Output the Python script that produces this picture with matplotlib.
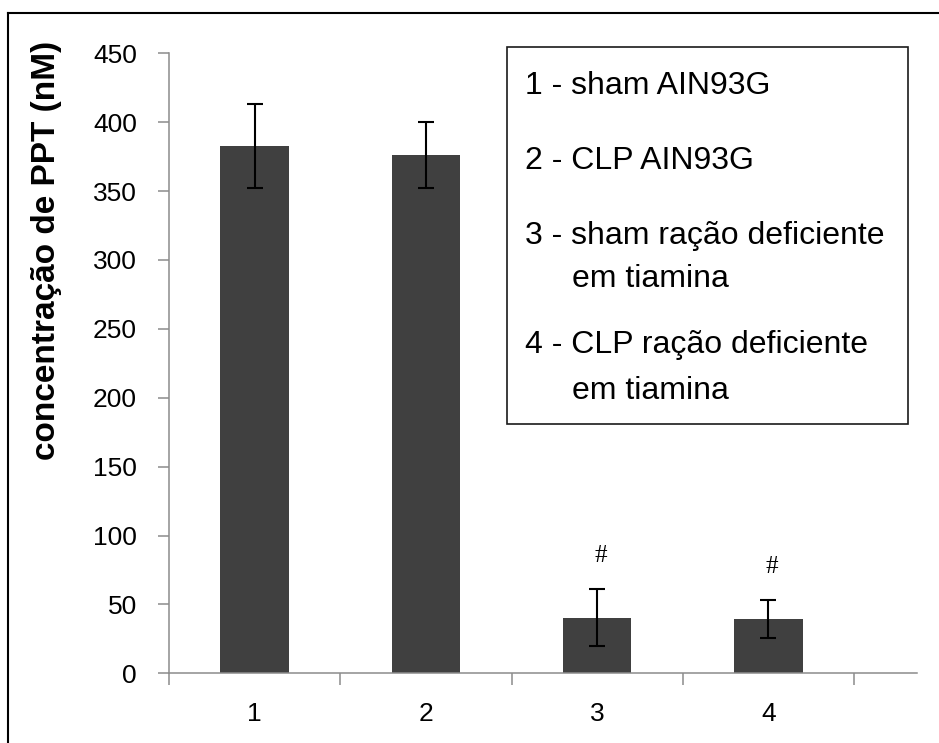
import matplotlib
matplotlib.use("Agg")
import matplotlib.pyplot as plt
from matplotlib.lines import Line2D
from matplotlib.patches import Rectangle

plt.rcParams["font.family"] = ["Liberation Sans", "DejaVu Sans"]

# Group means and error bars (nM)
groups = ["1", "2", "3", "4"]
means = [382.5, 376, 40.5, 39.5]
errors = [30.5, 24, 21, 13.7]
marked = [False, False, True, True]   # significance marks "#"

y_ticks = [0, 50, 100, 150, 200, 250, 300, 350, 400, 450]
y_label = "concentração de PPT (nM)"

legend_items = [
    ["1 - sham AIN93G"],
    ["2 - CLP AIN93G"],
    ["3 - sham ração deficiente", "em tiamina"],
    ["4 - CLP ração deficiente", "em tiamina"],
]

BAR_COLOR = "#404040"
AXIS_COLOR = "#8c8c8c"
W, H = 939, 743

fig = plt.figure(figsize=(W / 100, H / 100), dpi=100)
fig.patch.set_facecolor("white")

# plot area in pixels: x 169..917, y 53..673
ax = fig.add_axes([169 / W, (H - 673.3) / H, 748 / W, 620 / H])

x = list(range(1, len(groups) + 1))
ax.bar(x, means, width=0.4, color=BAR_COLOR, zorder=2)
ax.errorbar(x, means, yerr=errors, fmt="none", ecolor="black",
            elinewidth=1.5, capsize=6, capthick=1.5, zorder=3)

for xi, m, e, flag in zip(x, means, errors, marked):
    if flag:
        ax.text(xi + 0.02, m + e + 24, "#", ha="center", va="center",
                fontsize=18, family=["Liberation Serif", "DejaVu Serif"],
                color="black", zorder=4)

ax.set_ylim(0, 450)
ax.set_yticks(y_ticks)
ax.set_xlim(0.5, 0.5 + 748 / 171.25)

# category boundaries carry the tick marks, labels sit at the centres
ax.set_xticks([i + 0.5 for i in range(0, len(groups) + 1)])
ax.set_xticklabels([])
ax.set_xticks(x, minor=True)
ax.set_xticklabels(groups, minor=True)
ax.tick_params(axis="x", which="minor", length=0, pad=21, labelsize=19)
ax.tick_params(axis="x", which="major", length=8.5, width=1.1,
               color=AXIS_COLOR, direction="out")
ax.tick_params(axis="y", length=8, width=1.1, color=AXIS_COLOR,
               direction="out", pad=15, labelsize=19)

for side in ("top", "right"):
    ax.spines[side].set_visible(False)
for side in ("left", "bottom"):
    ax.spines[side].set_color(AXIS_COLOR)
    ax.spines[side].set_linewidth(1.1)

fig.text(47 / W, 1 - 250 / H, y_label, rotation=90, ha="center",
         va="center", fontsize=24, fontweight="bold", color="black")

# legend box with numbered group descriptions
fig.add_artist(Rectangle((507 / W, 1 - 424 / H), 401 / W, 377.3 / H,
                         transform=fig.transFigure, fill=False,
                         edgecolor="#1a1a1a", linewidth=1.2))
baselines = [94, 169, 244, 287, 353, 399]
k = 0
for item in legend_items:
    for j, line in enumerate(item):
        left = 525 if j == 0 else 572
        fig.text(left / W, 1 - baselines[k] / H, line, ha="left",
                 va="baseline", fontsize=23, color="black")
        k += 1

# outer frame (only top and left edges fall inside the image)
fig.add_artist(Line2D([8 / W, 8 / W], [0, 1 - 12.7 / H],
                      transform=fig.transFigure, color="black", linewidth=1.5))
fig.add_artist(Line2D([8 / W, 1], [1 - 12.7 / H, 1 - 12.7 / H],
                      transform=fig.transFigure, color="black", linewidth=1.5))

fig.savefig("out.png", dpi=100, facecolor="white")
